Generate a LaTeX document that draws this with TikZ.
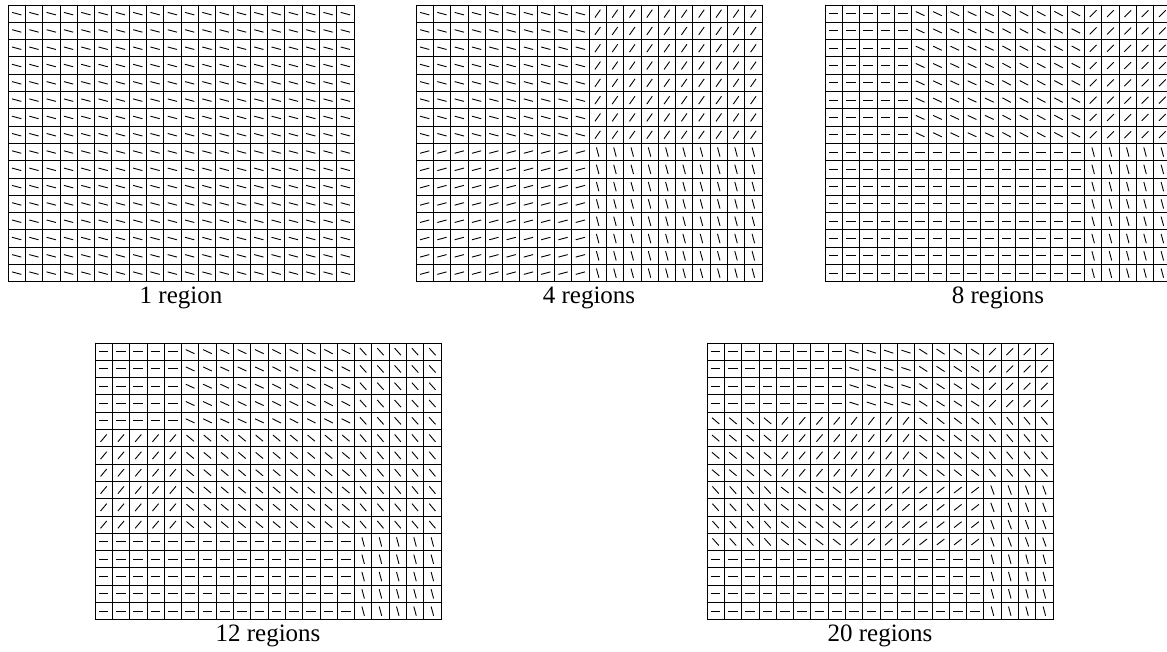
\documentclass[tikz,border=0pt]{standalone}
\usepackage{fontspec}
\setmainfont{Liberation Serif}
\newcommand{\cellsz}{17.3}
% one 20x16 grid; #1 = list of blocks col-from/col-to/row-from/row-to/angle
\newcommand{\orientgrid}[1]{%
  \foreach \ca/\cb/\ra/\rb/\ang in {#1} {
    \foreach \i in {\ca,...,\cb}
      \foreach \j in {\ra,...,\rb}
        \draw[tick] ({(\i+0.5)*\cellsz},{-(\j+0.5)*\cellsz})
          ++(\ang+180:4.8) -- ++(\ang:9.6);
  }
  \foreach \i in {0,...,20}
    \draw[gridline] ({\i*\cellsz},0) -- ({\i*\cellsz},{-16*\cellsz});
  \foreach \j in {0,...,16}
    \draw[gridline] (0,{-\j*\cellsz}) -- ({20*\cellsz},{-\j*\cellsz});
}

\begin{document}
\begin{tikzpicture}[
  x=1pt, y=1pt,
  tick/.style={line width=0.9pt, black},
  gridline/.style={line width=0.8pt, black, line cap=rect},
  lbl/.style={anchor=base, font=\fontsize{25}{30}\selectfont, inner sep=0pt},
]
\useasboundingbox (0,0) rectangle (1167,652);

% 1 region
\begin{scope}[shift={(8,647)}]
  \orientgrid{0/19/0/15/-15}
  \node[lbl] (lab1) at (173,-298.8) {1 region};
\end{scope}

% 4 regions
\begin{scope}[shift={(416,647)}]
  \orientgrid{0/9/0/7/-15, 10/19/0/7/55, 0/9/8/15/15, 10/19/8/15/-75}
  \node[lbl] (lab4) at (173,-298.8) {4 regions};
\end{scope}

% 8 regions
\begin{scope}[shift={(825,647)}]
  \orientgrid{0/4/0/7/0, 5/9/0/7/-25, 10/14/0/7/-28, 15/19/0/7/45,
              0/4/8/15/0, 5/9/8/15/0, 10/14/8/15/0, 15/19/8/15/-75}
  \node[lbl] (lab8) at (173,-298.8) {8 regions};
\end{scope}

% 12 regions
\begin{scope}[shift={(95,309)}]
  \orientgrid{0/4/0/4/0, 5/9/0/4/-25, 10/14/0/4/-27, 15/19/0/4/-48,
              0/4/5/10/50, 5/9/5/10/-40, 10/14/5/10/-40, 15/19/5/10/-50,
              0/4/11/15/0, 5/9/11/15/0, 10/14/11/15/0, 15/19/11/15/-75}
  \node[lbl] (lab12) at (173,-298.8) {12 regions};
\end{scope}

% 20 regions
\begin{scope}[shift={(707,309)}]
  \orientgrid{0/3/0/3/0, 4/7/0/3/0, 8/11/0/3/-18, 12/15/0/3/-33, 16/19/0/3/45,
              0/3/4/7/-40, 4/7/4/7/50, 8/11/4/7/52, 12/15/4/7/-38, 16/19/4/7/-50,
              0/3/8/11/-48, 4/7/8/11/-38, 8/11/8/11/42, 12/15/8/11/38, 16/19/8/11/-70,
              0/3/12/15/0, 4/7/12/15/0, 8/11/12/15/0, 12/15/12/15/0, 16/19/12/15/-75}
  \node[lbl] (lab20) at (173,-298.8) {20 regions};
\end{scope}

\end{tikzpicture}
\end{document}
